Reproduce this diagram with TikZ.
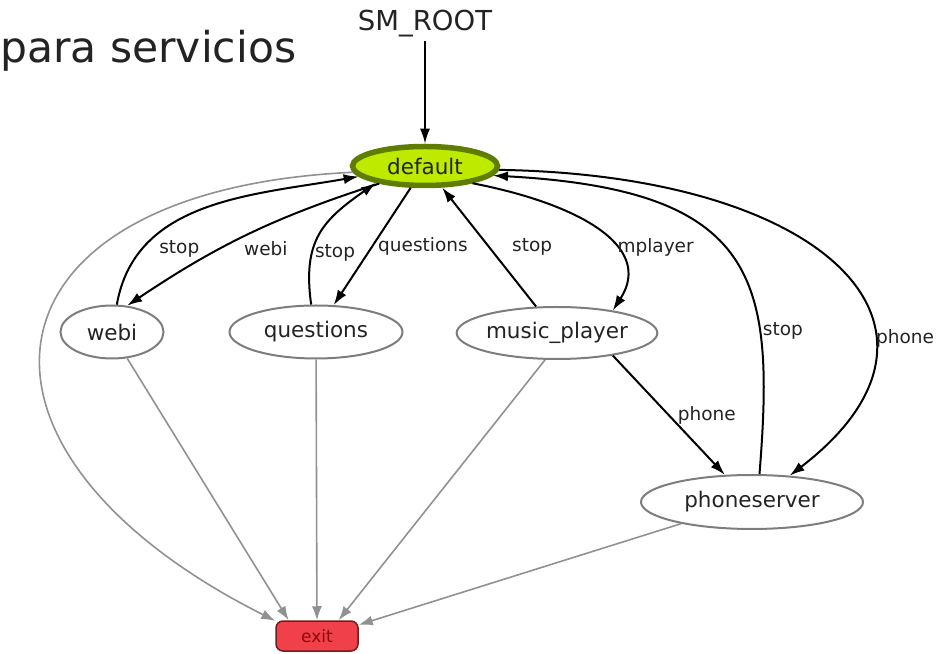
\documentclass[tikz,border=0pt]{standalone}
\usepackage{fontspec}
\setmainfont{DejaVu Sans}
\usetikzlibrary{arrows.meta,shapes.geometric}

\definecolor{defaultfill}{RGB}{190,234,0}
\definecolor{defaultdraw}{RGB}{95,125,0}
\definecolor{exitfill}{RGB}{240,64,74}
\definecolor{exitdraw}{RGB}{110,30,30}
\definecolor{exittext}{RGB}{140,10,10}
\definecolor{stategray}{RGB}{125,125,125}
\definecolor{edgegray}{RGB}{145,145,145}
\definecolor{textdark}{RGB}{35,35,35}

\begin{document}
\begin{tikzpicture}[x=1pt,y=1pt,
    state/.style={ellipse, draw=stategray, line width=2pt, inner sep=0pt,
        text=textdark, font=\fontsize{21.5}{24}\selectfont},
    edge/.style={line width=2pt, -{Latex[length=15pt,width=10pt]}},
    gedge/.style={draw=edgegray, line width=1.6pt, -{Latex[length=14pt,width=10pt]}},
    lbl/.style={text=textdark, font=\fontsize{18.5}{21}\selectfont, inner sep=2pt}]
    \useasboundingbox (0,0) rectangle (944,653);
    % Title
    \node[anchor=base west, inner sep=0pt, text=textdark,
        font=\fontsize{42.5}{48}\selectfont] (title) at (0,590) {para servicios};
    % States
    \node[text=textdark, font=\fontsize{27.5}{30}\selectfont] (root) at (425,629) {SM\_ROOT};
    \node[state, fill=defaultfill, draw=defaultdraw, line width=5.5pt,
        minimum width=145pt, minimum height=39pt] (default) at (425,487) {default};
    \node[state, minimum width=103pt, minimum height=53pt] (webi) at (112,321) {webi};
    \node[state, minimum width=173pt, minimum height=53pt] (questions) at (316,321) {questions};
    \node[state, minimum width=183pt, minimum height=52pt] (music_player) at (557,320) {music\_player};
    \node[state, minimum width=222pt, minimum height=54pt] (phoneserver) at (752,151) {phoneserver};
    \node[draw=exitdraw, fill=exitfill, line width=1.5pt, rounded corners=7pt,
        minimum width=82pt, minimum height=30pt, inner sep=0pt, text=exittext,
        font=\fontsize{17}{20}\selectfont] (exit) at (317,17) {exit};
    % Transitions
    \draw[edge] (root) -- (default);
    \draw[edge] (default.201) to[bend right=8]
        node[lbl, pos=.5, anchor=north west, xshift=-7pt, yshift=-4pt] {webi} (webi.60);
    \draw[edge] (webi.80) to[out=80,in=190]
        node[lbl, pos=.22, right=14pt] {stop} (default.189);
    \draw[edge] (questions.100) to[out=98,in=215,looseness=1.2]
        node[lbl, pos=.33, right=0pt] {stop} (default.199);
    \draw[edge] (default) -- node[lbl, midway, right=3pt] {questions} (questions);
    \draw[edge] (music_player) -- node[lbl, midway, right=20pt] {stop} (default);
    \draw[edge] (default.-20) .. controls (575,450) and (655,408) ..
        node[lbl, pos=.63, right] {mplayer} (music_player.22);
    \draw[edge] (phoneserver.75) .. controls (775,373) and (760,463) ..
        node[lbl, pos=.29, right] {stop} (default.-8);
    \draw[edge] (default.-3) .. controls (830,478) and (980,323) ..
        node[lbl, pos=.68, right] {phone} (phoneserver.35);
    \draw[edge] (music_player.-22) -- node[lbl, midway, right=6pt] {phone} (phoneserver.135);
    % Exit
    \draw[gedge] (default.185) .. controls (-30,463) and (-65,203) .. (exit.160);
    \draw[gedge] (webi.-60) -- (exit.151);
    \draw[gedge] (questions) -- (exit);
    \draw[gedge] (music_player.-114) -- (exit.36);
    \draw[gedge] (phoneserver.-163) -- (exit.15);
\end{tikzpicture}
\end{document}
